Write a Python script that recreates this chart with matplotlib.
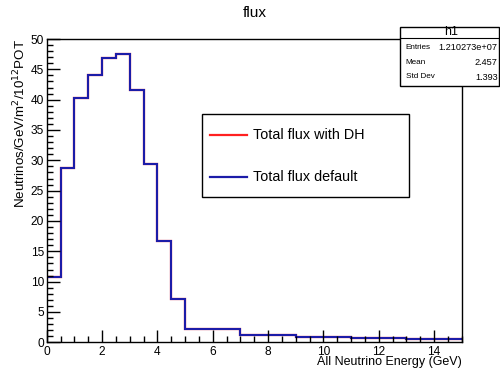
import matplotlib
matplotlib.use("Agg")
import matplotlib.pyplot as plt
from matplotlib.patches import Rectangle
from matplotlib.lines import Line2D
from matplotlib.ticker import MultipleLocator

plt.rcParams['font.family'] = ['Liberation Sans', 'DejaVu Sans']

# Data
bin_edges = [0, 0.5, 1, 1.5, 2, 2.5, 3, 3.5, 4, 4.5, 5, 7, 9, 11, 13, 15]
flux_dh = [10.8, 28.8, 40.2, 44.1, 46.9, 47.5, 41.6, 29.4, 16.7, 7.1, 2.2, 1.2, 0.9, 0.7, 0.5]
flux_default = [10.8, 28.8, 40.2, 44.1, 46.9, 47.5, 41.6, 29.4, 16.7, 7.1, 2.2, 1.2, 0.9, 0.7, 0.5]
labels = ["Total flux with DH", "Total flux default"]
colors = ['#ff2020', '#1c1ca8']
stats_names = ["Entries", "Mean", "Std Dev"]
stats_values = ["1.210273e+07", "2.457", "1.393"]

W, H = 500, 369
fig = plt.figure(figsize=(5, 3.69), dpi=100)
ax = fig.add_axes([46.7 / W, 1 - 342.3 / H, (461.7 - 46.7) / W, (342.3 - 39) / H])

ax.stairs(flux_dh, bin_edges, baseline=None, color=colors[0], lw=1.6, label=labels[0])
ax.stairs(flux_default, bin_edges, baseline=None, color=colors[1], lw=1.5, label=labels[1])

ax.set_xlim(0, 15)
ax.set_ylim(0, 50)
ax.xaxis.set_major_locator(MultipleLocator(2))
ax.xaxis.set_minor_locator(MultipleLocator(0.5))
ax.yaxis.set_major_locator(MultipleLocator(5))
ax.yaxis.set_minor_locator(MultipleLocator(1))
ax.tick_params(which='both', direction='in', top=False, right=False, labelsize=8.6, width=1)
ax.tick_params(which='major', length=9)
ax.tick_params(which='minor', length=4.5)
ax.tick_params(axis='x', pad=2.5)
ax.tick_params(axis='y', pad=2)
for s in ax.spines.values():
    s.set_linewidth(1)

ax.set_xlabel("All Neutrino Energy (GeV)", fontsize=9, ha='right', va='top')
ax.xaxis.set_label_coords(1.0, (342.3 - 356.5) / 303.3)
ax.set_ylabel(r"Neutrinos/GeV/m$^{2}$/10$^{12}$POT", fontsize=9.6, loc='top', labelpad=2)

fig.text(254.5 / W, 1 - 13 / H, "flux", ha='center', va='center', fontsize=11)

# legend box (ROOT TLegend style)
lx0, lx1, ly0, ly1 = 202, 409, 114, 197
fig.patches.append(Rectangle((lx0 / W, 1 - ly1 / H), (lx1 - lx0) / W, (ly1 - ly0) / H,
                             transform=fig.transFigure, facecolor='white', edgecolor='black',
                             lw=1, zorder=5))
entry_y = [135, 177]
for yy, lab, c in zip(entry_y, labels, colors):
    fig.lines.append(Line2D([210 / W, 247 / W], [1 - yy / H, 1 - yy / H],
                            transform=fig.transFigure, color=c, lw=1.6, zorder=6))
    fig.text(253 / W, 1 - yy / H, lab, ha='left', va='center', fontsize=10.4, zorder=7)

# stats box
x0, x1, y0, y1 = 400, 499, 27.3, 85.5
fig.patches.append(Rectangle((x0 / W, 1 - y1 / H), (x1 - x0) / W, (y1 - y0) / H,
                             transform=fig.transFigure, facecolor='white', edgecolor='black',
                             lw=1, zorder=5))
fig.lines.append(Line2D([x0 / W, x1 / W], [1 - 37.5 / H, 1 - 37.5 / H],
                        transform=fig.transFigure, color='black', lw=0.8, zorder=6))
fig.text(451.5 / W, 1 - 32 / H, "h1", ha='center', va='center', fontsize=9, zorder=7)
row_y = [47.7, 62.3, 77.0]
for yy, n, v in zip(row_y, stats_names, stats_values):
    fig.text(405.7 / W, 1 - yy / H, n, ha='left', va='center', fontsize=5.9, zorder=7)
    fig.text(497.5 / W, 1 - yy / H, v, ha='right', va='center', fontsize=6.6, zorder=7)

fig.savefig("out.png", dpi=100)
